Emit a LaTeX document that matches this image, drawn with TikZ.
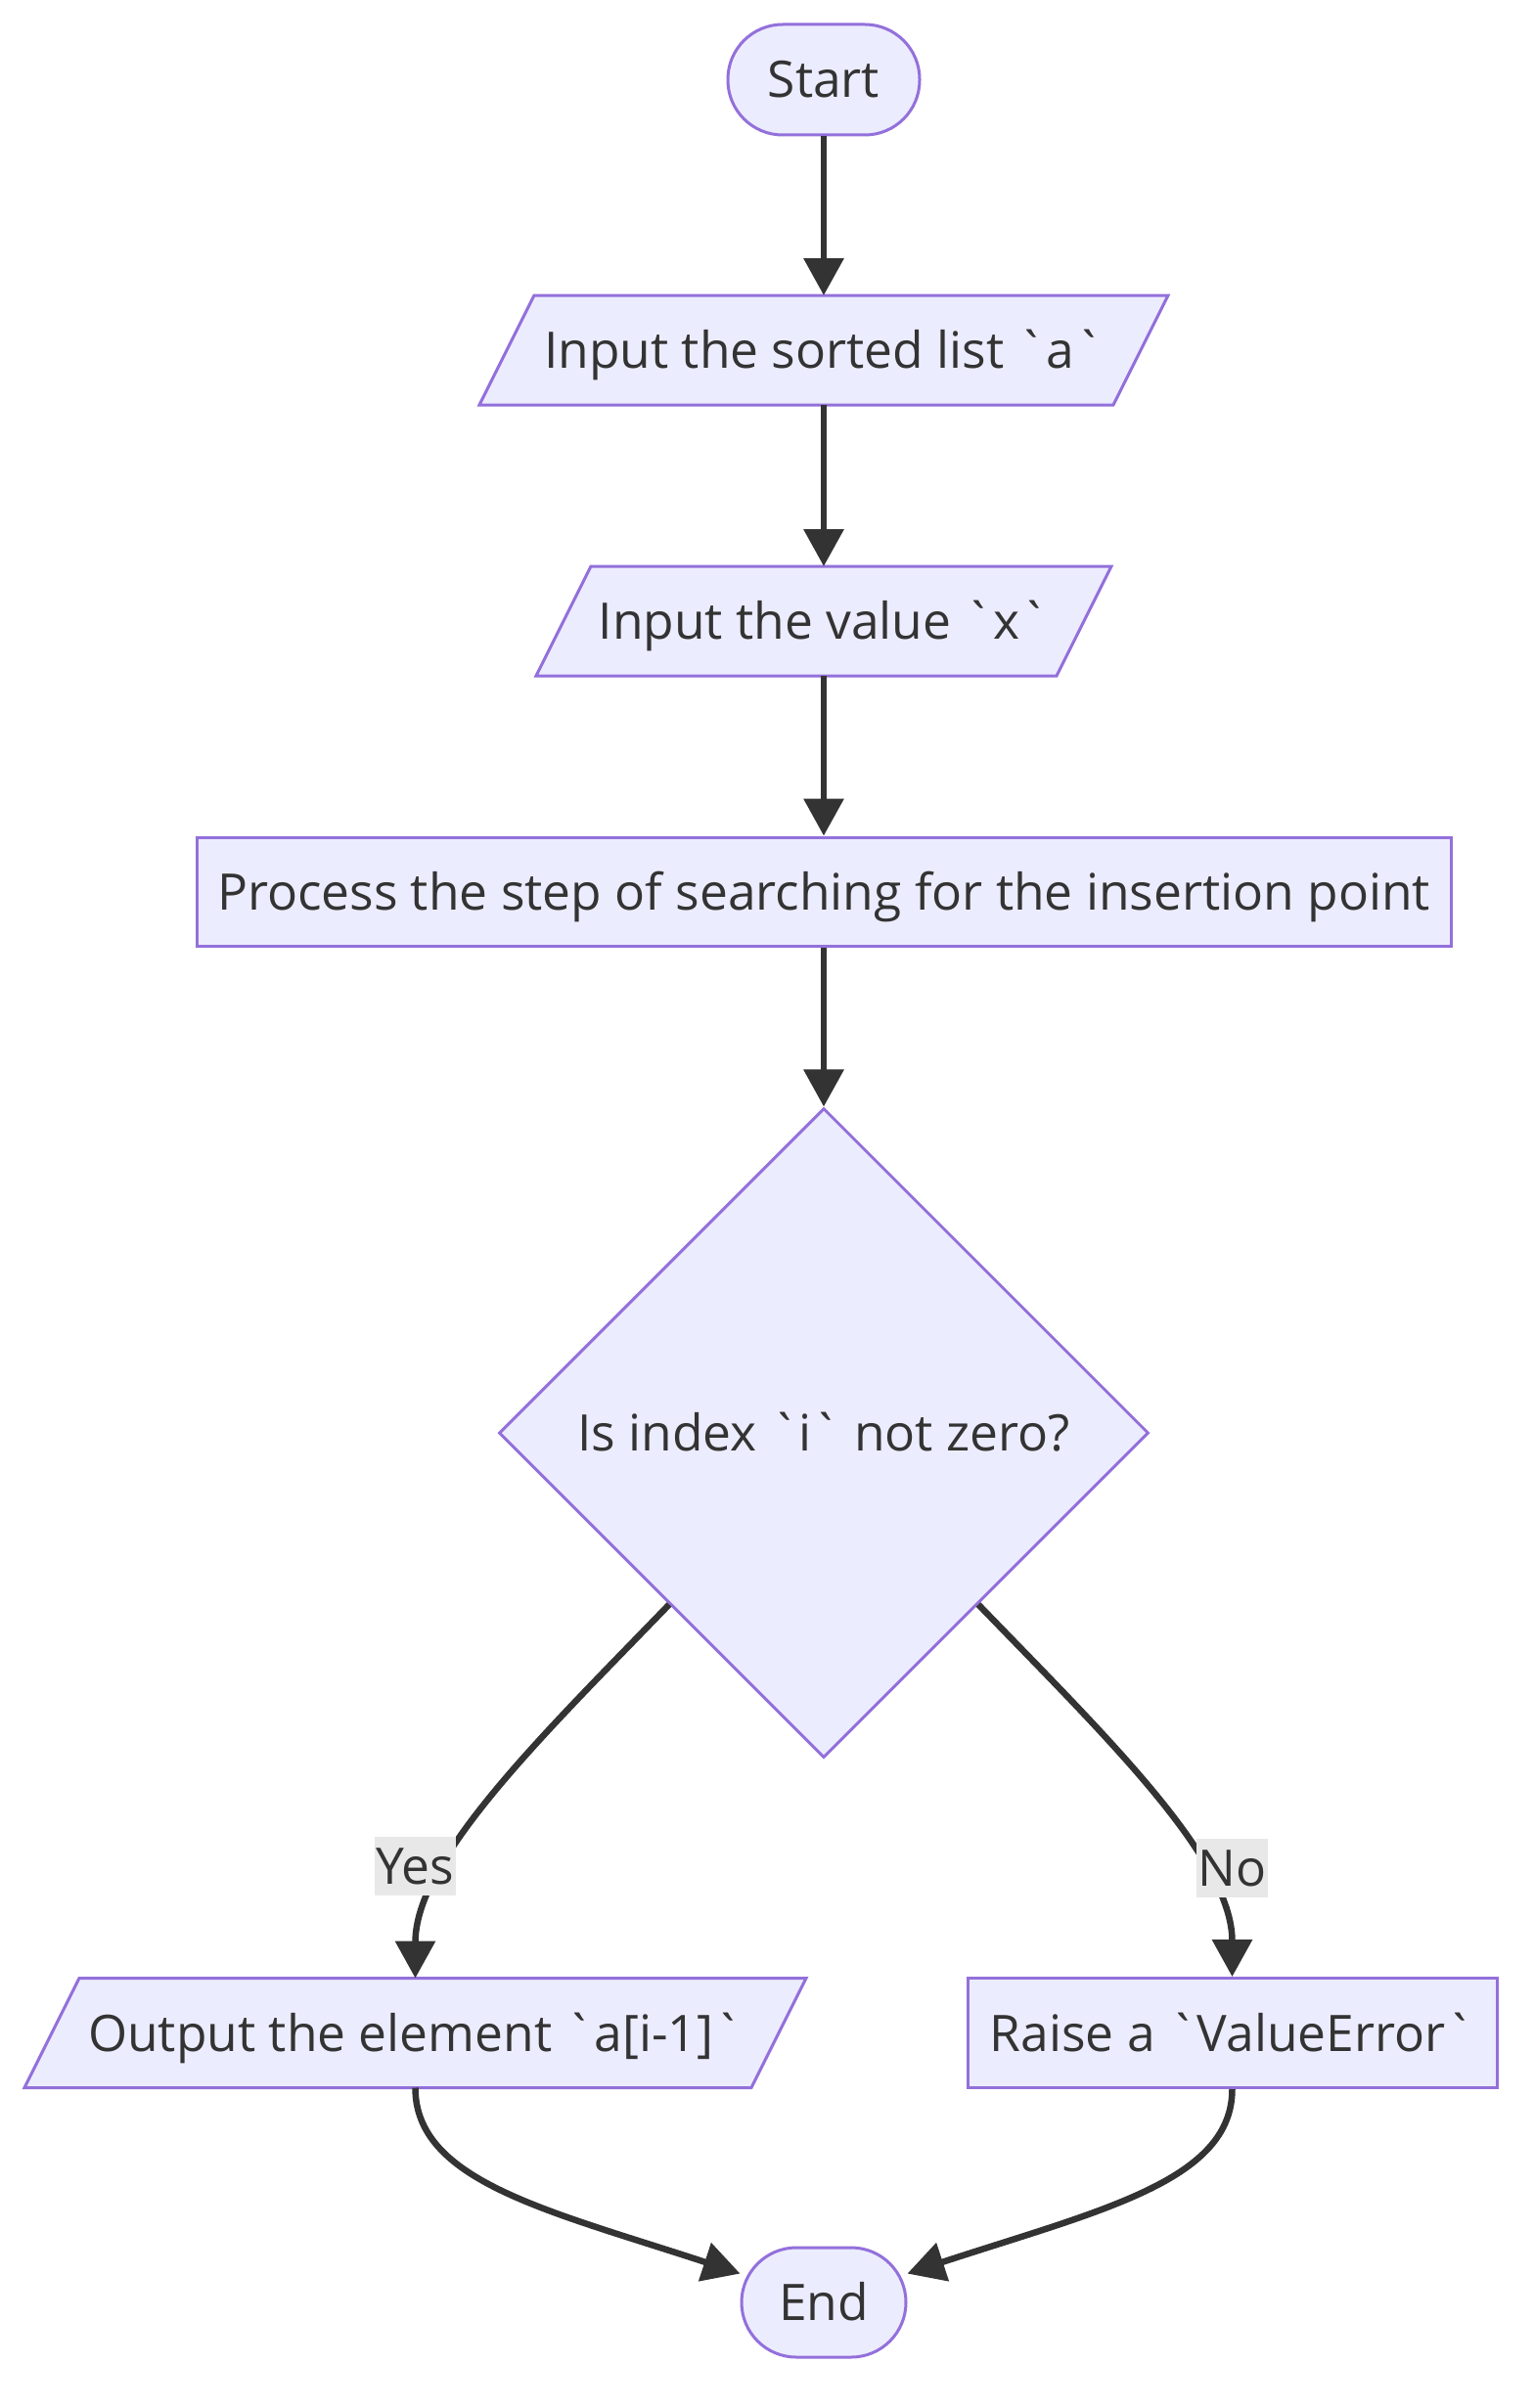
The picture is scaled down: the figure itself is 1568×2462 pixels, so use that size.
\documentclass[tikz,border=0pt]{standalone}
\usepackage{fontspec}
\newfontfamily\osans{Open Sans}
\usetikzlibrary{shapes.geometric,arrows.meta}
\definecolor{mfill}{HTML}{ECECFF}
\definecolor{mstroke}{HTML}{9370DB}
\definecolor{mtext}{HTML}{333333}
\definecolor{medge}{HTML}{333333}
\definecolor{lblbg}{HTML}{E8E8E8}
\pgfdeclarelayer{background}
\pgfsetlayers{background,main}
\tikzset{
  base/.style={font=\osans\fontsize{51.5}{62}\selectfont, text=mtext, inner sep=0pt, text height=37pt, text depth=0pt},
  term/.style={base, rectangle, rounded corners=56pt, draw=mstroke, fill=mfill, line width=3pt},
  procbox/.style={base, rectangle, draw=mstroke, fill=mfill, line width=3pt},
  iobox/.style={base, rectangle, outer sep=0pt},
  decision/.style={base, diamond, aspect=1, draw=mstroke, fill=mfill, line width=3pt, minimum width=664pt, minimum height=664pt},
  edgelabel/.style={base, fill=lblbg, inner xsep=2pt, minimum height=60pt},
  edge/.style={draw=medge, line width=6.5pt, -{Triangle[length=38pt,width=40pt]}},
  para/.style={fill=mfill, draw=mstroke, line width=3pt, line join=miter},
}
\newcommand\drawpara[1]{%
  \path[para] (#1.south west) -- ([xshift=56pt]#1.north west) -- (#1.north east) -- ([xshift=-56pt]#1.south east) -- cycle;}
\begin{document}
\begin{tikzpicture}[x=1pt,y=-1pt]
\useasboundingbox (0,0) rectangle (1568,2462);

\node[term, minimum width=196pt, minimum height=113pt] (start) at (842,81.5) {Start};
\node[iobox, minimum width=704pt, minimum height=112pt] (inlist) at (842,358) {Input the sorted list `a`};
\node[iobox, minimum width=588pt, minimum height=112pt] (inx) at (842,635) {Input the value `x`};
\node[procbox, minimum width=1282pt, minimum height=111pt] (proc) at (842,911.5) {Process the step of searching for the insertion point};
\node[decision] (dec) at (842,1465) {Is index `i` not zero?};
\node[iobox, minimum width=799pt, minimum height=112pt] (out) at (424.5,2078.5) {Output the element `a[i-1]`};
\node[procbox, minimum width=541pt, minimum height=112pt] (err) at (1259.5,2078.5) {Raise a `ValueError`};
\node[term, minimum width=168pt, minimum height=112pt] (fin) at (842,2354) {End};

\begin{pgfonlayer}{background}
\fill[white] (0,0) rectangle (1568,2462);
\drawpara{inlist}
\drawpara{inx}
\drawpara{out}
\end{pgfonlayer}

\draw[edge] (start) -- (inlist);
\draw[edge] (inlist) -- (inx);
\draw[edge] (inx) -- (proc);
\draw[edge] (proc) -- (dec);
\draw[edge] (dec.228) .. controls (554,1775) and (424.5,1900) .. (out.north);
\draw[edge] (dec.312) .. controls (1130,1775) and (1259.5,1900) .. (err.north);
\draw[edge] (out.south) .. controls (424.5,2230) and (560,2260) .. (fin.161);
\draw[edge] (err.south) .. controls (1259.5,2230) and (1124,2260) .. (fin.19);

\node[edgelabel] (ly) at (424.5,1908) {Yes};
\node[edgelabel] (ln) at (1259.5,1910) {No};
\end{tikzpicture}
\end{document}
